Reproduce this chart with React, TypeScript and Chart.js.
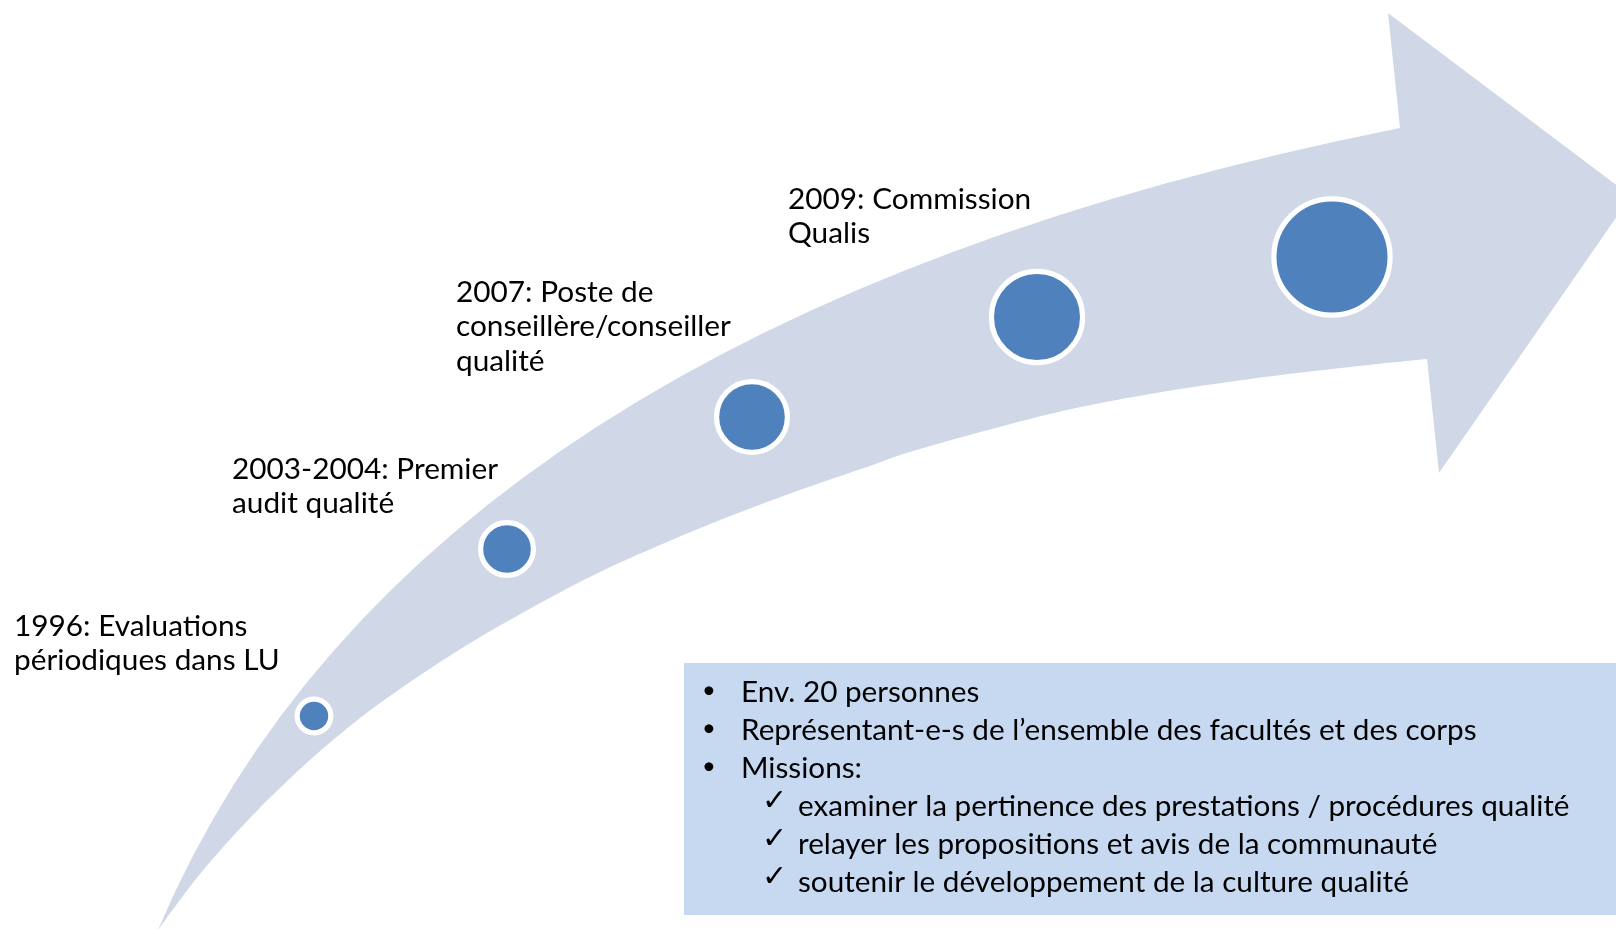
import React, { useEffect, useRef } from "react";
import { Chart, registerables } from "chart.js";

Chart.register(...registerables);

// ---- Milestone bubbles (position along the timeline arrow, bubble radius) ----
const milestoneX = [314, 507, 752, 1037, 1332];
const milestoneY = [716, 549, 417, 317, 257];
const milestoneR = [16.8, 26.4, 35.4, 45.6, 58.1];

// ---- Milestone labels ----
const milestoneLabels: string[][] = [
  ["1996: Evaluations", "périodiques dans LU"],
  ["2003-2004: Premier", "audit qualité"],
  ["2007: Poste de", "conseillère/conseiller", "qualité"],
  ["2009: Commission", "Qualis"],
];
const labelX = [14, 232, 456, 788];
const labelY = [636, 479, 302, 209];

// ---- Arrow outline ----
// upper edge: start (tail), control point, end (inner corner of the head)
const arrowUpperX = [158, 414, 1400];
const arrowUpperY = [930, 325, 128];
// lower edge: points from tail to inner corner of the head
const arrowLowerX = [158, 200, 250, 300, 350, 400, 467, 533, 600, 667, 733, 800, 867, 920, 1050, 1150, 1250, 1350, 1427];
const arrowLowerY = [930, 874, 818, 769, 726, 689, 645, 607, 572, 542, 515, 490, 467, 449, 414, 394, 379, 367, 359];
// head: inner top corner, top barb, tip, bottom barb, inner bottom corner
const arrowHeadX = [1400, 1388, 1631, 1439, 1427];
const arrowHeadY = [128, 13, 196, 473, 359];

// ---- Info box ----
const boxX = [684, 1616];
const boxY = [663, 915];
const bulletItems = [
  "Env. 20 personnes",
  "Représentant-e-s de l’ensemble des facultés et des corps",
  "Missions:",
];
const checkItems = [
  "examiner la pertinence des prestations / procédures qualité",
  "relayer les propositions et avis de la communauté",
  "soutenir le développement de la culture qualité",
];
const boxBaselines = [702, 740, 778, 816, 854, 892];
const bulletX = 709;
const bulletTextX = 741;
const checkX = 762;
const checkTextX = 798;

const FONT = "Lato, 'Open Sans', sans-serif";
const ARROW_COLOR = "#d0d8e8";
const BUBBLE_COLOR = "#4f81bd";
const BOX_COLOR = "#c6d9f1";

function fitSize(ctx: CanvasRenderingContext2D, text: string, target: number) {
  ctx.font = `100px ${FONT}`;
  const w = ctx.measureText(text).width;
  return (100 * target) / w;
}

function catmull(ctx: CanvasRenderingContext2D, pts: { x: number; y: number }[]) {
  for (let i = 0; i < pts.length - 1; i++) {
    const p0 = pts[Math.max(0, i - 1)];
    const p1 = pts[i];
    const p2 = pts[i + 1];
    const p3 = pts[Math.min(pts.length - 1, i + 2)];
    ctx.bezierCurveTo(
      p1.x + (p2.x - p0.x) / 6,
      p1.y + (p2.y - p0.y) / 6,
      p2.x - (p3.x - p1.x) / 6,
      p2.y - (p3.y - p1.y) / 6,
      p2.x,
      p2.y
    );
  }
}

const arrowPlugin = {
  id: "timelineArrow",
  beforeDatasetsDraw(chart: any) {
    const { ctx, scales } = chart;
    const xs = scales.x;
    const ys = scales.y;
    const P = (x: number, y: number) => ({ x: xs.getPixelForValue(x), y: ys.getPixelForValue(y) });
    const upper = arrowUpperX.map((x, i) => P(x, arrowUpperY[i]));
    const lower = arrowLowerX.map((x, i) => P(x, arrowLowerY[i])).reverse();
    const head = arrowHeadX.map((x, i) => P(x, arrowHeadY[i]));
    ctx.save();
    ctx.beginPath();
    ctx.moveTo(upper[0].x, upper[0].y);
    ctx.quadraticCurveTo(upper[1].x, upper[1].y, upper[2].x, upper[2].y);
    for (let i = 1; i < head.length; i++) ctx.lineTo(head[i].x, head[i].y);
    catmull(ctx, lower);
    ctx.closePath();
    ctx.fillStyle = ARROW_COLOR;
    ctx.fill();
    ctx.restore();
  },
};

const textPlugin = {
  id: "timelineText",
  afterDatasetsDraw(chart: any) {
    const { ctx, scales } = chart;
    const xs = scales.x;
    const ys = scales.y;
    ctx.save();
    ctx.textBaseline = "alphabetic";
    ctx.textAlign = "left";
    ctx.fillStyle = "#000";

    // milestone labels
    const labelSize = fitSize(ctx, "conseillère/conseiller", 275);
    ctx.font = `${labelSize}px ${FONT}`;
    milestoneLabels.forEach((lines, i) => {
      lines.forEach((line, j) => {
        ctx.fillText(line, xs.getPixelForValue(labelX[i]), ys.getPixelForValue(labelY[i]) + j * 34.3);
      });
    });

    // info box
    const bx0 = xs.getPixelForValue(boxX[0]);
    const bx1 = xs.getPixelForValue(boxX[1]);
    const by0 = ys.getPixelForValue(boxY[0]);
    const by1 = ys.getPixelForValue(boxY[1]);
    ctx.fillStyle = BOX_COLOR;
    ctx.fillRect(bx0, by0, bx1 - bx0, by1 - by0);

    ctx.fillStyle = "#000";
    const boxSize = fitSize(ctx, checkItems[0], 772);
    bulletItems.forEach((t, i) => {
      const y = ys.getPixelForValue(boxBaselines[i]);
      ctx.font = `${boxSize * 0.8}px ${FONT}`;
      ctx.textAlign = "center";
      ctx.fillText("•", xs.getPixelForValue(bulletX), y - 4);
      ctx.font = `${boxSize}px ${FONT}`;
      ctx.textAlign = "left";
      ctx.fillText(t, xs.getPixelForValue(bulletTextX), y);
    });
    checkItems.forEach((t, i) => {
      const y = ys.getPixelForValue(boxBaselines[i + 3]);
      ctx.font = `30px 'DejaVu Sans', sans-serif`;
      ctx.textAlign = "left";
      ctx.fillText("✓", xs.getPixelForValue(checkX), y - 6);
      ctx.font = `${boxSize}px ${FONT}`;
      ctx.fillText(t, xs.getPixelForValue(checkTextX), y);
    });
    ctx.restore();
  },
};

export default function App() {
  const canvasRef = useRef<HTMLCanvasElement | null>(null);

  useEffect(() => {
    if (!canvasRef.current) return;
    const chart = new Chart(canvasRef.current, {
      type: "bubble",
      data: {
        datasets: [
          {
            label: "Jalons",
            data: milestoneX.map((x, i) => ({ x, y: milestoneY[i], r: milestoneR[i] })),
            backgroundColor: BUBBLE_COLOR,
            borderColor: "#ffffff",
            borderWidth: 5.2,
            hoverBorderWidth: 5.2,
            clip: false,
          } as any,
        ],
      },
      options: {
        animation: false,
        responsive: true,
        maintainAspectRatio: false,
        layout: { padding: 0, autoPadding: false },
        events: [],
        plugins: {
          legend: { display: false },
          tooltip: { enabled: false },
        },
        scales: {
          x: { type: "linear", min: 0, max: 1616, display: false },
          y: { type: "linear", min: 0, max: 929, reverse: true, display: false },
        },
      },
      plugins: [arrowPlugin, textPlugin],
    });
    return () => chart.destroy();
  }, []);

  return (
    <div style={{ position: "fixed", left: 0, top: 0, width: 1616, height: 929, background: "#ffffff" }}>
      <canvas ref={canvasRef} />
    </div>
  );
}
